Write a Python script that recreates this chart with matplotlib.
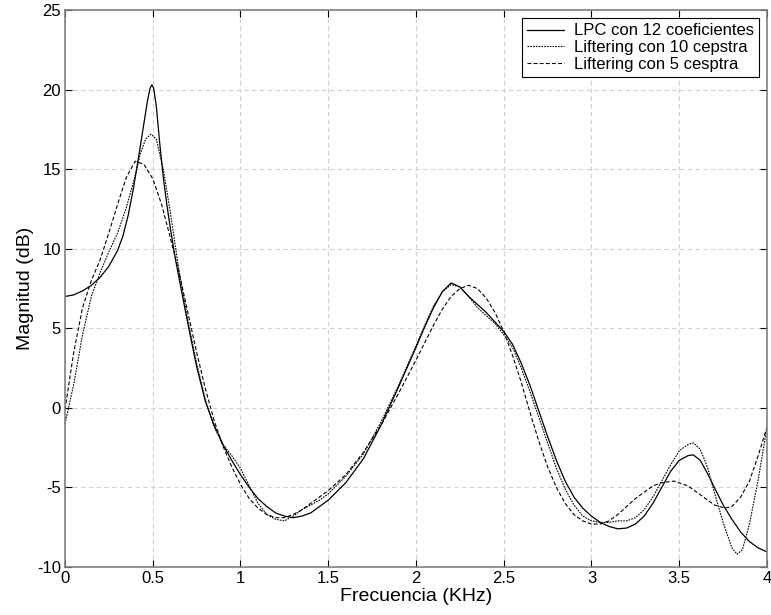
import numpy as np
import matplotlib as mpl
mpl.use('Agg')
import matplotlib.pyplot as plt

plt.rcParams['font.family'] = ['Liberation Sans', 'DejaVu Sans']
plt.rcParams['axes.unicode_minus'] = False

# LPC con 12 coeficientes
x_lpc = [0, 0.05, 0.1, 0.15, 0.2, 0.25, 0.3, 0.33, 0.36, 0.39, 0.42, 0.45, 0.47, 0.485, 0.495,
         0.505, 0.52, 0.54, 0.56, 0.58, 0.6, 0.63, 0.67, 0.7, 0.75, 0.8, 0.85, 0.9, 0.95, 1.0,
         1.05, 1.1, 1.15, 1.2, 1.25, 1.3, 1.35, 1.4, 1.45, 1.5, 1.6, 1.7, 1.8, 1.9, 2.0, 2.05,
         2.1, 2.15, 2.2, 2.25, 2.3, 2.35, 2.4, 2.45, 2.5, 2.55, 2.6, 2.65, 2.7, 2.75, 2.8,
         2.85, 2.9, 2.95, 3.0, 3.05, 3.1, 3.15, 3.2, 3.25, 3.3, 3.35, 3.4, 3.45, 3.5, 3.55,
         3.58, 3.62, 3.66, 3.7, 3.75, 3.8, 3.85, 3.9, 3.95, 4.0]
y_lpc = [7.0, 7.1, 7.35, 7.7, 8.2, 8.9, 9.9, 10.8, 12.1, 13.8, 15.8, 17.9, 19.3, 20.1, 20.3,
         20.1, 19.0, 16.6, 14.5, 12.8, 11.3, 9.3, 7.0, 5.3, 2.6, 0.4, -1.1, -2.3, -3.3, -4.2,
         -5.0, -5.7, -6.2, -6.6, -6.8, -6.9, -6.8, -6.6, -6.2, -5.8, -4.7, -3.2, -1.1, 1.3, 3.8, 5.1,
         6.3, 7.3, 7.85, 7.6, 7.0, 6.5, 6.0, 5.4, 4.8, 4.0, 2.8, 1.4, -0.2, -1.8, -3.3,
         -4.6, -5.6, -6.3, -6.8, -7.2, -7.45, -7.6, -7.55, -7.3, -6.8, -6.0, -5.0, -4.0, -3.3, -3.0,
         -2.95, -3.3, -4.1, -5.0, -6.1, -7.0, -7.8, -8.4, -8.8, -9.05]

# Liftering con 10 cepstra
x_c10 = [0, 0.05, 0.1, 0.15, 0.2, 0.25, 0.3, 0.35, 0.4, 0.43, 0.46, 0.49, 0.52, 0.56, 0.6,
         0.65, 0.7, 0.75, 0.8, 0.85, 0.9, 0.95, 1.0, 1.05, 1.1, 1.15, 1.2, 1.25, 1.3, 1.35,
         1.4, 1.45, 1.5, 1.6, 1.7, 1.8, 1.9, 2.0, 2.05, 2.1, 2.15, 2.2, 2.25, 2.3, 2.35, 2.4,
         2.45, 2.5, 2.55, 2.6, 2.65, 2.7, 2.75, 2.8, 2.85, 2.9, 2.95, 3.0, 3.05, 3.1, 3.15,
         3.2, 3.25, 3.3, 3.35, 3.4, 3.45, 3.5, 3.55, 3.58, 3.62, 3.66, 3.7, 3.75, 3.8, 3.83,
         3.86, 3.9, 3.95, 4.0]
y_c10 = [-1.0, 1.5, 4.6, 7.0, 8.5, 9.8, 11.0, 12.6, 14.6, 16.0, 16.9, 17.2, 16.9, 15.0, 12.3,
         8.6, 5.5, 2.8, 0.5, -1.2, -2.3, -3.0, -3.8, -4.9, -6.0, -6.7, -7.0, -7.1, -6.8, -6.4,
         -6.1, -5.8, -5.4, -4.3, -2.9, -0.9, 1.4, 3.9, 5.2, 6.4, 7.3, 7.75, 7.6, 7.0, 6.3, 5.8,
         5.3, 4.6, 3.8, 2.5, 1.0, -0.6, -2.2, -3.8, -5.1, -6.1, -6.8, -7.1, -7.2, -7.2, -7.1,
         -7.1, -6.9, -6.4, -5.6, -4.6, -3.6, -2.7, -2.3, -2.2, -2.6, -3.7, -5.3, -7.2, -8.8, -9.2,
         -8.9, -7.3, -4.5, -1.2]

# Liftering con 5 cesptra
x_c5 = [0, 0.05, 0.1, 0.15, 0.2, 0.25, 0.3, 0.35, 0.4, 0.45, 0.5, 0.55, 0.6, 0.65, 0.7,
        0.75, 0.8, 0.85, 0.9, 0.95, 1.0, 1.05, 1.1, 1.15, 1.2, 1.25, 1.3, 1.35, 1.4, 1.5,
        1.6, 1.7, 1.8, 1.9, 2.0, 2.05, 2.1, 2.15, 2.2, 2.25, 2.3, 2.35, 2.4, 2.45, 2.5, 2.55,
        2.6, 2.65, 2.7, 2.75, 2.8, 2.85, 2.9, 2.95, 3.0, 3.05, 3.1, 3.15, 3.2, 3.25, 3.3,
        3.35, 3.4, 3.47, 3.55, 3.6, 3.65, 3.7, 3.76, 3.8, 3.85, 3.9, 3.95, 4.0]
y_c5 = [-0.1, 3.5, 6.3, 8.0, 9.3, 11.0, 12.8, 14.5, 15.5, 15.3, 14.4, 12.8, 10.7, 8.5, 6.0,
        3.5, 1.2, -0.8, -2.4, -3.7, -4.8, -5.7, -6.3, -6.7, -6.9, -6.9, -6.7, -6.4, -6.0, -5.2,
        -4.2, -2.8, -1.1, 0.9, 3.0, 4.1, 5.2, 6.2, 7.0, 7.5, 7.7, 7.5, 6.9, 6.0, 4.8, 3.3,
        1.6, -0.3, -2.1, -3.7, -5.0, -6.0, -6.7, -7.1, -7.3, -7.3, -7.1, -6.7, -6.2, -5.7, -5.3,
        -4.9, -4.7, -4.6, -4.9, -5.3, -5.7, -6.1, -6.3, -6.2, -5.6, -4.6, -3.0, -1.2]

fig = plt.figure(figsize=(7.71, 6.15), dpi=100)
ax = fig.add_axes([0.0843, 0.078, 0.9105, 0.9057])

ax.plot(x_lpc, y_lpc, color='black', lw=0.9, label='LPC con 12 coeficientes')
ax.plot(x_c10, y_c10, color='black', lw=0.8, dashes=(1.5, 1.0), label='Liftering con 10 cepstra')
ax.plot(x_c5, y_c5, color='black', lw=0.8, dashes=(3.5, 2.0), label='Liftering con 5 cesptra')

ax.set_xlim(0, 4)
ax.set_ylim(-10, 25)
ax.set_xticks([0, 0.5, 1, 1.5, 2, 2.5, 3, 3.5, 4])
ax.set_xticklabels(['0', '0.5', '1', '1.5', '2', '2.5', '3', '3.5', '4'])
ax.set_yticks([-10, -5, 0, 5, 10, 15, 20, 25])
ax.grid(True, color='#d0d0d0', linestyle=(0, (4, 3)), lw=0.8)
ax.tick_params(direction='in', top=True, right=True, labelsize=12, length=5, pad=3)
for sp in ax.spines.values():
    sp.set_color('#808080')
    sp.set_linewidth(1.2)

ax.set_xlabel('Frecuencia (KHz)', fontsize=14, labelpad=1)
ax.set_ylabel('Magnitud (dB)', fontsize=14, labelpad=2)

leg = ax.legend(loc='upper right', fontsize=12, fancybox=False, framealpha=1,
                edgecolor='black', handlelength=2.2, borderpad=0.3, labelspacing=0.1,
                handletextpad=0.6, borderaxespad=0.5)
leg.get_frame().set_linewidth(0.8)

fig.savefig('out.png', dpi=100)
